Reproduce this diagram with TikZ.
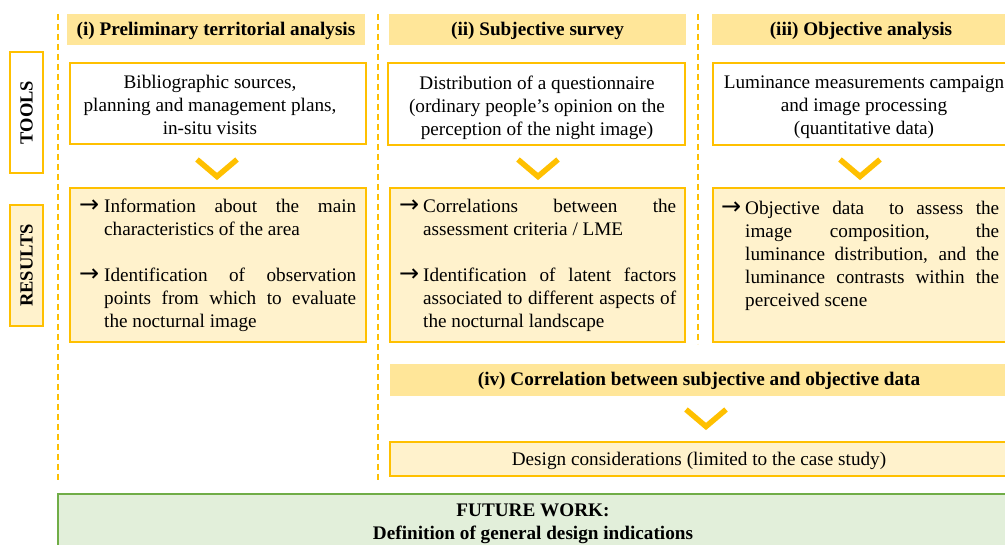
\documentclass[tikz,border=0pt]{standalone}
\usepackage{fontspec}
\setmainfont{Liberation Serif}
\newfontfamily\arrowfont{DejaVu Sans}
\definecolor{gold}{HTML}{FFC000}
\definecolor{hdrfill}{HTML}{FFE699}
\definecolor{resfill}{HTML}{FFF2CC}
\definecolor{futfill}{HTML}{E2EFDA}
\definecolor{futline}{HTML}{70AD47}
\newcommand\topstrut{\rule{0pt}{16pt}}
\tolerance=10000
\tikzset{
  txt/.style={font=\fontsize{19.2}{23}\selectfont, inner sep=0pt},
  boldtxt/.style={font=\fontsize{19.2}{23}\selectfont\bfseries, inner sep=0pt},
  hdr/.style={boldtxt, fill=hdrfill, minimum height=31pt, text height=16pt, text depth=4pt},
  boxstyle/.style={draw=gold, line width=1.6pt},
  toolbox/.style={boxstyle, fill=white, minimum width=296pt, minimum height=81pt, inner sep=0pt},
  resbox/.style={boxstyle, fill=resfill, minimum width=296pt, minimum height=154pt, inner sep=0pt},
  side/.style={boxstyle, rotate=90, minimum width=121pt, minimum height=33pt, inner sep=0pt,
               font=\fontsize{18.5}{22}\selectfont\bfseries},
  sepline/.style={gold, line width=1.5pt, dash pattern=on 6pt off 4pt},
  chev/.style={gold, line width=5.5pt},
  para/.style={txt, anchor=north west, align=justify},
  arr/.style={font=\fontsize{24}{26}\arrowfont, inner sep=0pt, anchor=base west},
  chevron/.pic={\draw[chev] (-20,-8) -- (0,9) -- (20,-8);}
}
\begin{document}
\begin{tikzpicture}[x=1pt,y=-1pt]
\useasboundingbox (0,0) rectangle (1005,545);
\clip (0,0) rectangle (1005,545);
% separators
\draw[sepline] (58,14) -- (58,481);
\draw[sepline] (378,14) -- (378,481);
\draw[sepline] (698,14) -- (698,344);
% side labels
\node[side, fill=white] (tools) at (26.5,112.5) {TOOLS};
\node[side, fill=resfill] (results) at (26.5,265.5) {RESULTS};
% headers
\node[hdr, minimum width=298pt] (h1) at (216,29.5) {(i) Preliminary territorial analysis};
\node[hdr, minimum width=297pt] (h2) at (537.5,29.5) {(ii) Subjective survey};
\node[hdr, minimum width=298pt] (h3) at (861,29.5) {(iii) Objective analysis};
% tool boxes
\node[toolbox] (t1) at (218,103.5) {};
\node[toolbox, minimum width=297pt, minimum height=82pt] (t2) at (536.5,104) {};
\node[toolbox, minimum height=82pt] (t3) at (861,104) {};
\node[txt, align=center] (t1txt) at (210,105) {Bibliographic sources,\\planning and management plans,\\in-situ visits};
\node[txt, align=center] (t2txt) at (537,107.5) {Distribution of a questionnaire\\(ordinary people’s opinion on the\\perception of the night image)};
\node[txt, align=center] (t3txt) at (864,107.5) {Luminance measurements campaign\\and image processing\\(quantitative data)};
% chevrons
\pic at (217,167.5) {chevron};
\pic at (538,167.5) {chevron};
\pic at (860,167.5) {chevron};
% result boxes
\node[resbox] (r1) at (218,265) {};
\node[resbox, minimum width=295pt] (r2) at (537.5,265) {};
\node[resbox] (r3) at (861,265) {};
% results (i)
\node[arr] (a11) at (79,213) {→};
\node[para, text width=252pt] (p11) at (104,196.5) {\topstrut Information about the main\linebreak characteristics of the area};
\node[arr] (a12) at (79,282) {→};
\node[para, text width=252pt] (p12) at (104,265.5) {\topstrut Identification of observation\linebreak points from which to evaluate\linebreak the nocturnal image};
% results (ii)
\node[arr] (a21) at (399,213) {→};
\node[para, text width=253pt] (p21) at (423,196.5) {\topstrut Correlations between the\linebreak assessment criteria / LME};
\node[arr] (a22) at (399,282) {→};
\node[para, text width=253pt] (p22) at (423,265.5) {\topstrut Identification of latent factors\linebreak associated to different aspects of\linebreak the nocturnal landscape};
% results (iii)
\node[arr] (a31) at (721,215) {→};
\node[para, text width=254pt] (p31) at (745,198.5) {\topstrut Objective data \ to assess the\linebreak image composition, the\linebreak luminance distribution, and the\linebreak luminance contrasts within the\linebreak perceived scene};
% (iv)
\node[hdr, minimum width=618pt, minimum height=32pt] (h4) at (699,380) {(iv) Correlation between subjective and objective data};
\pic at (706,417.5) {chevron};
\node[boxstyle, fill=resfill, minimum width=618pt, minimum height=34pt, txt, text height=17pt, text depth=4pt] (d) at (699,459) {Design considerations (limited to the case study)};
% future work
\node[draw=futline, fill=futfill, line width=1.6pt, minimum width=950pt, minimum height=60pt, boldtxt, align=center] (fw) at (533,524) {FUTURE WORK:\\Definition of general design indications};
\end{tikzpicture}
\end{document}
